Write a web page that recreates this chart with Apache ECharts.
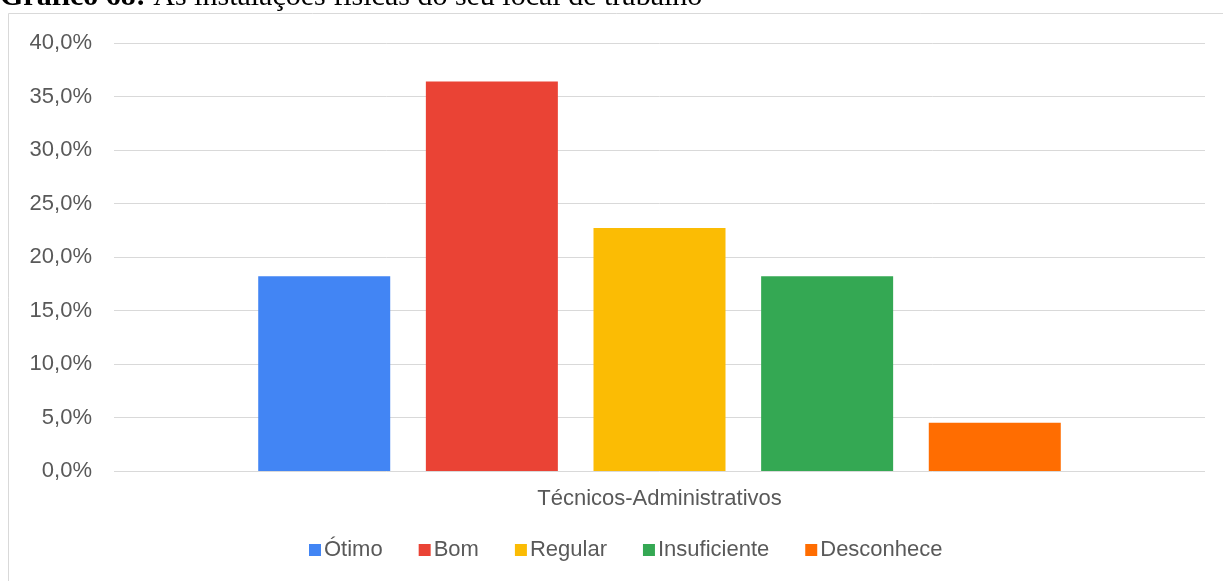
<!DOCTYPE html>
<html><head><meta charset="utf-8">
<script src="https://cdn.jsdelivr.net/npm/echarts@6/dist/echarts.min.js"></script>
<style>html,body{margin:0;padding:0;background:#fff}#c{width:1223px;height:581px}</style>
</head><body><div id="c"></div>
<script>
const categories = ['Técnicos-Administrativos'];
const seriesNames = ['Ótimo', 'Bom', 'Regular', 'Insuficiente', 'Desconhece'];
const seriesValues = [[18.2], [36.4], [22.7], [18.2], [4.5]];
const seriesColors = ['#4285F4', '#EA4335', '#FBBC04', '#34A853', '#FF6D01'];
const yTicks = {min: 0, max: 40, interval: 5};

const chart = echarts.init(document.getElementById('c'), null, {renderer: 'canvas'});
const font = 'Liberation Sans, Arial, sans-serif';
chart.setOption({
  animation: false,
  backgroundColor: '#fff',
  graphic: [
    {type: 'rect', shape: {x: 8.5, y: 13.5, width: 1300, height: 700}, style: {fill: 'none', stroke: '#d9d9d9', lineWidth: 1}, silent: true},
    {type: 'text', left: 0, top: -18, style: {
      text: '{b|Gráfico 68:} As instalações físicas do seu local de trabalho',
      font: '30px "Liberation Serif", "Times New Roman", serif', fill: '#000',
      rich: {b: {fontWeight: 'bold', fontFamily: 'Liberation Serif', fontSize: 30, fill: '#000'}}
    }}
  ],
  grid: {left: 114, right: 18, top: 43, bottom: 110, containLabel: false},
  legend: {
    data: seriesNames, bottom: 15, left: 304, itemWidth: 12, itemHeight: 12, itemGap: 36,
    icon: 'rect', textStyle: {color: '#595959', fontSize: 22, fontFamily: font, padding: [0, 0, 0, -2]}
  },
  xAxis: {
    type: 'category', data: categories,
    axisLine: {show: false}, axisTick: {show: false},
    axisLabel: {color: '#595959', fontSize: 22, fontFamily: font, margin: 17}
  },
  yAxis: {
    type: 'value', min: yTicks.min, max: yTicks.max, interval: yTicks.interval,
    axisLine: {show: false}, axisTick: {show: false},
    axisLabel: {color: '#595959', fontSize: 22, fontFamily: font, margin: 22,
      formatter: v => v.toFixed(1).replace('.', ',') + '%'},
    splitLine: {lineStyle: {color: '#d9d9d9', width: 1}}
  },
  series: seriesNames.map((n, i) => ({
    name: n, type: 'bar', data: seriesValues[i], barWidth: 132, barGap: '27%',
    itemStyle: {color: seriesColors[i]}
  }))
});
</script></body></html>
